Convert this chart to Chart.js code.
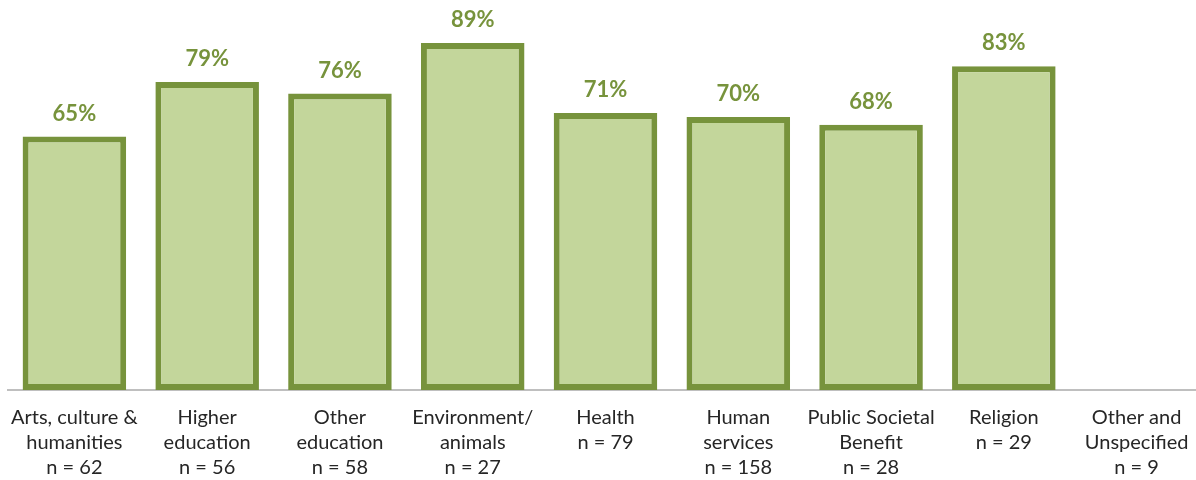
<!DOCTYPE html>
<html>
<head>
<meta charset="utf-8">
<script src="https://cdn.jsdelivr.net/npm/chart.js@4"></script>
<style>
  html, body { margin: 0; padding: 0; background: #fff; overflow: hidden; }
  #wrap { width: 1203px; height: 480px; position: relative; }
</style>
</head>
<body>
<div id="wrap"><canvas id="sectorChart"></canvas></div>
<script>
const categories = [
    ["Arts, culture &", "humanities"],
    ["Higher", "education"],
    ["Other", "education"],
    ["Environment/", "animals"],
    ["Health"],
    ["Human", "services"],
    ["Public Societal", "Benefit"],
    ["Religion"],
    ["Other and", "Unspecified"]
];
const sampleSizes = [62, 56, 58, 27, 79, 158, 28, 29, 9];
const percents = [65, 79, 76, 89, 71, 70, 68, 83, null];

const labels = categories.map((lines, i) => [...lines, "n = " + sampleSizes[i]]);

// writes the percentage above each bar
const valueLabels = {
    id: "valueLabels",
    afterDatasetsDraw(chart) {
        const ctx = chart.ctx;
        const meta = chart.getDatasetMeta(0);
        ctx.save();
        ctx.font = "bold 22px Lato, 'Open Sans', sans-serif";
        ctx.fillStyle = "#77933c";
        ctx.textAlign = "center";
        ctx.textBaseline = "middle";
        meta.data.forEach((bar, i) => {
            if (percents[i] == null) return;
            ctx.fillText(percents[i] + "%", bar.x, bar.y - 23);
        });
        ctx.restore();
    }
};

new Chart(document.getElementById("sectorChart"), {
    type: "bar",
    data: {
        labels: labels,
        datasets: [{
            data: percents,
            backgroundColor: "#c3d69b",
            borderColor: "#77933c",
            borderWidth: 6,
            borderSkipped: false,
            barPercentage: 0.78,
            categoryPercentage: 1
        }]
    },
    options: {
        responsive: true,
        maintainAspectRatio: false,
        animation: false,
        layout: { padding: { left: 8, right: 0, top: 0, bottom: 0 } },
        plugins: {
            legend: { display: false },
            tooltip: { enabled: false }
        },
        scales: {
            x: {
                grid: { display: false, drawTicks: false },
                border: { display: true, color: "#bfbfbf", width: 2 },
                ticks: {
                    color: "#262626",
                    padding: 15,
                    maxRotation: 0,
                    autoSkip: false,
                    font: { family: "Lato, 'Open Sans', sans-serif", size: 20, lineHeight: 1.25 }
                },
                afterFit(scale) {
                    // fixed label band, and no extra side room for the outer labels
                    scale.height = 90;
                    scale.paddingLeft = 0;
                    scale.paddingRight = 0;
                }
            },
            y: {
                display: false,
                min: 0,
                max: 100
            }
        }
    },
    plugins: [valueLabels]
});
</script>
</body>
</html>
